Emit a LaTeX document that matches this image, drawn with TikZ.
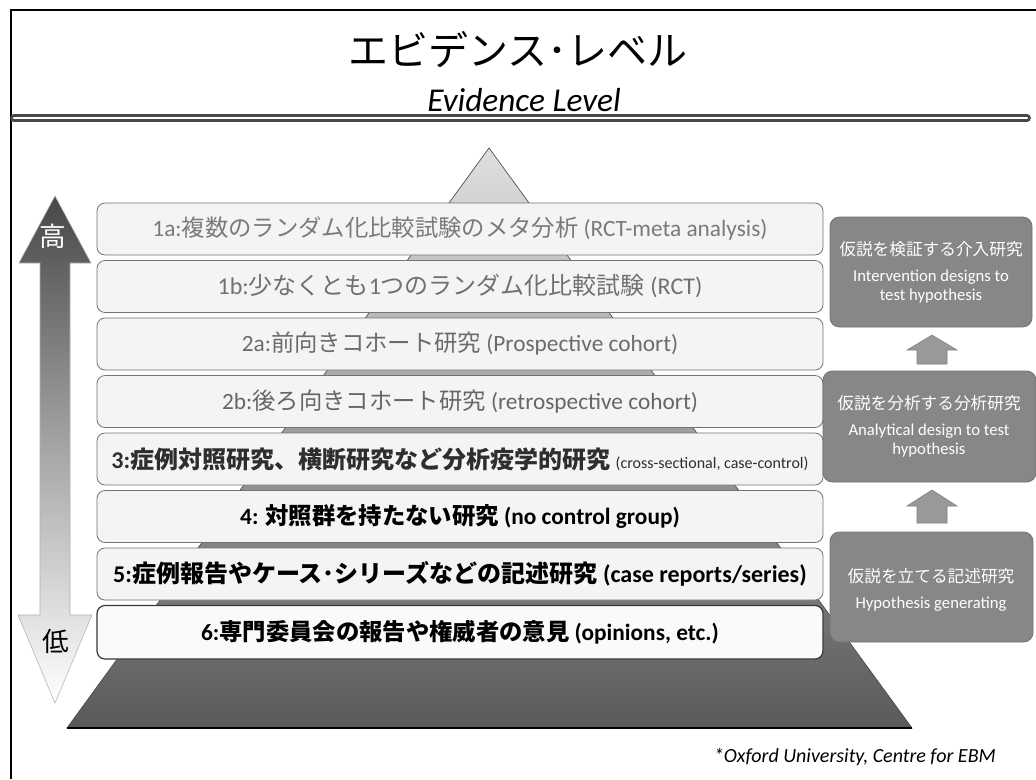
\documentclass[tikz,border=0pt]{standalone}
\usepackage{fontspec}
\setmainfont{Carlito}
\newfontfamily\jp{Noto Sans CJK JP}
\begin{document}
\begin{tikzpicture}[x=0.75pt,y=-0.75pt,
  barbox/.style={rounded corners=6pt, fill=gray!9, draw=black!55, line width=0.6pt},
  bartext/.style={font=\fontsize{17.5pt}{20pt}\selectfont, anchor=center, inner sep=0pt},
  boldtext/.style={font=\bfseries\fontsize{17.5pt}{20pt}\selectfont, anchor=center, inner sep=0pt},
  sidebox/.style={rounded corners=7pt, fill=black!47, draw=black!55, line width=0.6pt},
  sidetext/.style={text=white, align=center, font=\fontsize{12.5pt}{14.5pt}\selectfont, inner sep=0pt},
  uparrow/.style={fill=black!40, draw=black!50, line width=0.4pt}]
\useasboundingbox (0,0) rectangle (1036,779);
\fill[white] (0,0) rectangle (1036,779);
% frame
\draw[line width=2.2pt] (11,779) -- (11,10) -- (1036,10);
% title
\node[font=\jp\fontsize{30pt}{34pt}\selectfont, inner sep=0pt] (title) at (518,50) {エビデンス･レベル};
\node[font=\itshape\fontsize{25pt}{28pt}\selectfont, inner sep=0pt] (subtitle) at (524,100) {Evidence Level};
\draw[line width=2pt, color=black!72, double=white, double distance=1.8pt, line cap=round] (14,118) -- (1027,118);
% pyramid
\shade[top color=gray!25, bottom color=black!65, draw=black!70, line width=0.5pt] (489,148) -- (912,728) -- (67,728) -- cycle;
\draw[line width=1.2pt] (67,728) -- (912,728);
% left arrow
\shade[top color=black!72, bottom color=white, middle color=black!35, draw=black!30, line width=0.4pt]
  (55,196) -- (91,263) -- (70,263) -- (70,615) -- (92,615) -- (55,703) -- (18,615) -- (40,615) -- (40,263) -- (19,263) -- cycle;
\node[text=white, font=\jp\fontsize{20pt}{22pt}\selectfont, inner sep=0pt] (hi) at (53,236) {高};
\node[text=black, font=\jp\fontsize{20pt}{22pt}\selectfont, inner sep=0pt] (lo) at (56,641) {低};
% bars
\path[barbox] (97,203) rectangle (823,255);
\path[barbox] (97,260.5) rectangle (823,312.5);
\path[barbox] (97,318) rectangle (823,370);
\path[barbox] (97,375.5) rectangle (823,427.5);
\path[barbox] (97,433) rectangle (823,485);
\path[barbox] (97,490.5) rectangle (823,542.5);
\path[barbox] (97,548) rectangle (823,600);
\path[barbox, fill=gray!4, draw=black!78, line width=0.9pt] (97,605.5) rectangle (823,659);
\node[bartext, text=black!52] (b1a) at (460,229) {1a:{\jp 複数のランダム化比較試験のメタ分析} (RCT-meta analysis)};
\node[bartext, text=black!56, font=\fontsize{18pt}{20pt}\selectfont] (b1b) at (460,286.5) {1b:{\jp 少なくとも}1{\jp つのランダム化比較試験} (RCT)};
\node[bartext, text=black!58] (b2a) at (460,344) {2a:{\jp 前向きコホート研究} (Prospective cohort)};
\node[bartext, text=black!60] (b2b) at (460,401.5) {2b:{\jp 後ろ向きコホート研究} (retrospective cohort)};
\node[boldtext, text=black!82, font=\bfseries\fontsize{18pt}{20pt}\selectfont] (b3) at (460,459) {3:{\jp\bfseries 症例対照研究、横断研究など分析疫学的研究} {\mdseries\fontsize{12pt}{13pt}\selectfont (cross-sectional, case-control)}};
\node[boldtext] (b4) at (460,516.5) {4: {\jp\bfseries 対照群を持たない研究} (no control group)};
\node[boldtext, font=\bfseries\fontsize{18pt}{20pt}\selectfont] (b5) at (460,574) {5:{\jp\bfseries 症例報告やケース･シリーズなどの記述研究} (case reports/series)};
\node[boldtext] (b6) at (460,632) {6:{\jp\bfseries 専門委員会の報告や権威者の意見} (opinions, etc.)};
% right boxes
\path[sidebox] (830,217) rectangle (1032,327);
\path[sidebox] (823,371) rectangle (1036,482);
\path[sidebox] (830,532) rectangle (1033,642);
\node[sidetext] (r1) at (931,272) {{\jp 仮説を検証する介入研究}\\[5pt]Intervention designs to\\test hypothesis};
\node[sidetext] (r2) at (929,426) {{\jp 仮説を分析する分析研究}\\[5pt]Analytical design to test\\hypothesis};
\node[sidetext] (r3) at (931,590) {{\jp 仮説を立てる記述研究}\\[5pt]Hypothesis generating};
% up arrows
\path[uparrow] (932,335) -- (957,350) -- (947,350) -- (947,364) -- (917,364) -- (917,350) -- (907,350) -- cycle;
\path[uparrow] (932,490) -- (957,506) -- (947,506) -- (947,523) -- (917,523) -- (917,506) -- (907,506) -- cycle;
% footnote
\node[font=\itshape\fontsize{15pt}{17pt}\selectfont, anchor=east, inner sep=0pt] (foot) at (996,757) {*Oxford University, Centre for EBM};
\end{tikzpicture}
\end{document}
